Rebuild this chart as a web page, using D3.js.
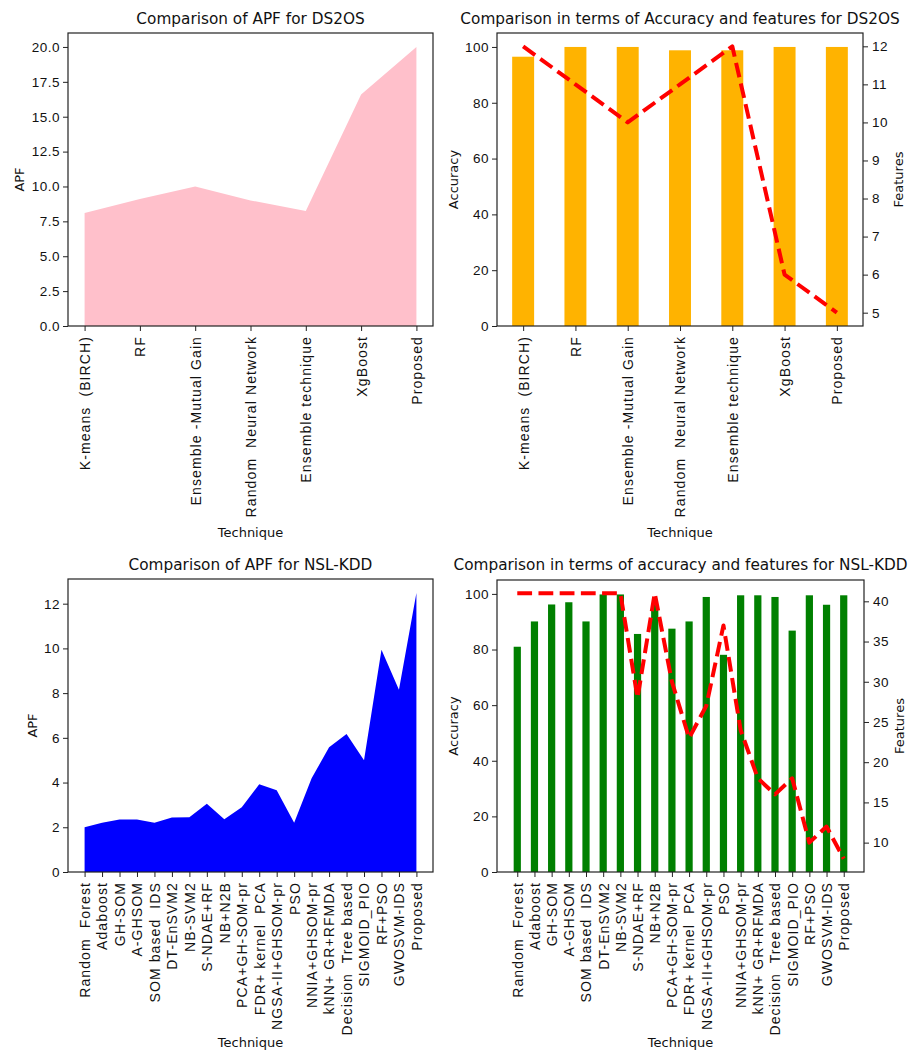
<!DOCTYPE html>
<html>
<head>
<meta charset="utf-8">
<script src="https://cdn.jsdelivr.net/npm/d3@7"></script>
<style>
  html, body { margin: 0; padding: 0; background: #fff; }
  svg { display: block; font-family: "DejaVu Sans", sans-serif; }
</style>
</head>
<body>
<svg id="fig" width="908" height="1054"></svg>
<script>
// ---- DS2OS data ----
const ds2osTechniques = ["K-means  (BIRCH)", "RF", "Ensemble -Mutual Gain", "Random  Neural Network",
  "Ensemble technique", "XgBoost", "Proposed"];
const ds2osAPF = [8.1, 9.1, 10.0, 9.0, 8.25, 16.6, 20.0];
const ds2osAccuracy = [96.5, 100, 100, 98.8, 98.8, 100, 100];
const ds2osFeatures = [12, 11, 10, 11, 12, 6, 5];

// ---- NSL-KDD data ----
const nslTechniques = ["Random  Forest", "Adaboost", "GH-SOM", "A-GHSOM", "SOM based  IDS", "DT-EnSVM2",
  "NB-SVM2", "S-NDAE+RF", "NB+N2B", "PCA+GH-SOM-pr", "FDR+ kernel  PCA", "NGSA-II+GHSOM-pr", "PSO",
  "NNIA+GHSOM-pr", "kNN+ GR+RFMDA", "Decision  Tree based", "SIGMOID_PIO", "RF+PSO", "GWOSVM-IDS", "Proposed"];
const nslAPF = [2.0, 2.2, 2.35, 2.35, 2.2, 2.44, 2.45, 3.05, 2.36, 2.9, 3.92, 3.66, 2.2, 4.19, 5.58,
  6.17, 5.0, 9.94, 8.15, 12.48];
const nslAccuracy = [81, 90.1, 96.2, 97, 90.1, 99.8, 99.8, 85.6, 96, 87.5, 90.1, 98.9, 78.1, 99.5, 99.5,
  98.9, 86.8, 99.5, 96.1, 99.5];
const nslFeatures = [41, 41, 41, 41, 41, 41, 41, 28, 41, 30, 23, 27, 37, 24, 18, 16, 18, 10, 12, 8];

// tick values
const ds2osAPFTicks = [0, 2.5, 5, 7.5, 10, 12.5, 15, 17.5, 20];
const nslAPFTicks = [0, 2, 4, 6, 8, 10, 12];
const accuracyTicks = [0, 20, 40, 60, 80, 100];
const ds2osFeatureTicks = [5, 6, 7, 8, 9, 10, 11, 12];
const nslFeatureTicks = [10, 15, 20, 25, 30, 35, 40];

const svg = d3.select("#fig");
const TICK_FONT = "13.5px";
const XTICK_FONT = "14px";
const LABEL_FONT = "13px";
const TITLE_FONT = "15.3px";

function frame(g, box) {
  g.append("rect")
    .attr("x", box.left).attr("y", box.top)
    .attr("width", box.right - box.left).attr("height", box.bottom - box.top)
    .attr("fill", "none").attr("stroke", "#222").attr("stroke-width", 1.2);
}

function styleAxis(sel, size, spacing) {
  sel.select(".domain").remove();
  sel.selectAll(".tick line").attr("stroke", "#222").attr("stroke-width", 1);
  sel.selectAll(".tick text").attr("fill", "#111").style("font-size", size)
    .style("letter-spacing", spacing);
}

function xCategoryAxis(g, box, x, labels) {
  const ax = g.append("g").attr("transform", `translate(0,${box.bottom})`)
    .call(d3.axisBottom(x).tickValues(d3.range(labels.length))
      .tickFormat(i => labels[i]).tickSize(5).tickSizeOuter(0));
  styleAxis(ax, XTICK_FONT, "1.1px");
  ax.selectAll(".tick text")
    .style("white-space", "pre")
    .attr("transform", "rotate(-90)")
    .attr("x", -10).attr("y", 0).attr("dy", "0.35em")
    .style("text-anchor", "end");
}

function leftAxis(g, box, y, ticks, fmt) {
  const ax = g.append("g").attr("transform", `translate(${box.left},0)`)
    .call(d3.axisLeft(y).tickValues(ticks).tickFormat(fmt).tickSize(5).tickPadding(3));
  styleAxis(ax, TICK_FONT, "0.5px");
}

function rightAxis(g, box, y, ticks) {
  const ax = g.append("g").attr("transform", `translate(${box.right},0)`)
    .call(d3.axisRight(y).tickValues(ticks).tickFormat(d3.format("d")).tickSize(5).tickPadding(4));
  styleAxis(ax, TICK_FONT, "0.5px");
}

function title(g, box, text, y) {
  g.append("text").attr("x", (box.left + box.right) / 2).attr("y", y)
    .attr("text-anchor", "middle").style("font-size", TITLE_FONT).attr("fill", "#111").text(text);
}

function xLabel(g, box, y) {
  g.append("text").attr("x", (box.left + box.right) / 2).attr("y", y)
    .attr("text-anchor", "middle").style("font-size", LABEL_FONT).attr("fill", "#111").text("Technique");
}

function yLabel(g, x, y, text) {
  g.append("text").attr("transform", `translate(${x},${y}) rotate(-90)`)
    .attr("text-anchor", "middle").attr("dy", "0.35em")
    .style("font-size", LABEL_FONT).attr("fill", "#111").text(text);
}

// Area chart of APF values
function apfArea(box, labels, values, ticks, fmt, color, titleText, titleY, xLabelY, yLabelX) {
  const g = svg.append("g");
  const n = labels.length;
  const pad = 0.05 * (n - 1);
  const x = d3.scaleLinear().domain([-pad, n - 1 + pad]).range([box.left, box.right]);
  const y = d3.scaleLinear().domain([0, d3.max(values) * 1.05]).range([box.bottom, box.top]);
  const area = d3.area().x((d, i) => x(i)).y0(y(0)).y1(d => y(d));
  g.append("path").datum(values).attr("d", area).attr("fill", color).attr("stroke", "none");
  frame(g, box);
  leftAxis(g, box, y, ticks, fmt);
  xCategoryAxis(g, box, x, labels);
  title(g, box, titleText, titleY);
  xLabel(g, box, xLabelY);
  yLabel(g, yLabelX, (box.top + box.bottom) / 2, "APF");
}

// Bar chart of accuracy with dashed line of features on a twin axis
function accuracyFeatures(box, labels, acc, feats, fTicks, barColor, xPad, titleText, titleY, xLabelY) {
  const g = svg.append("g");
  const n = labels.length;
  const barW = 0.42;
  const x = d3.scaleLinear().domain([-xPad, n - 1 + xPad]).range([box.left, box.right]);
  const y = d3.scaleLinear().domain([0, 105]).range([box.bottom, box.top]);
  const fMin = d3.min(feats), fMax = d3.max(feats), fPad = 0.05 * (fMax - fMin);
  const y2 = d3.scaleLinear().domain([fMin - fPad, fMax + fPad]).range([box.bottom, box.top]);

  g.selectAll("rect.bar").data(acc).enter().append("rect")
    .attr("class", "bar")
    .attr("x", (d, i) => x(i - barW / 2))
    .attr("width", x(barW) - x(0))
    .attr("y", d => y(d))
    .attr("height", d => y(0) - y(d))
    .attr("fill", barColor);

  const line = d3.line().x((d, i) => x(i)).y(d => y2(d));
  g.append("path").datum(feats).attr("d", line)
    .attr("fill", "none").attr("stroke", "#ff0000").attr("stroke-width", 4)
    .attr("stroke-dasharray", "14.8,6.4").attr("stroke-linejoin", "round");

  frame(g, box);
  leftAxis(g, box, y, accuracyTicks, d3.format("d"));
  rightAxis(g, box, y2, fTicks);
  xCategoryAxis(g, box, x, labels);
  title(g, box, titleText, titleY);
  xLabel(g, box, xLabelY);
  yLabel(g, box.left - 44, (box.top + box.bottom) / 2, "Accuracy");
  yLabel(g, box.right + 35, (box.top + box.bottom) / 2, "Features");
}

const boxTL = { left: 68, right: 433, top: 33, bottom: 326 };
const boxTR = { left: 497, right: 863, top: 33, bottom: 326 };
const boxBL = { left: 68, right: 433, top: 579, bottom: 872 };
const boxBR = { left: 497, right: 864, top: 580, bottom: 872 };

apfArea(boxTL, ds2osTechniques, ds2osAPF, ds2osAPFTicks, d3.format(".1f"), "#ffc0cb",
  "Comparison of APF for DS2OS", 24, 537, 19);
accuracyFeatures(boxTR, ds2osTechniques, ds2osAccuracy, ds2osFeatures, ds2osFeatureTicks, "#ffb300", 0.5,
  "Comparison in terms of Accuracy and features for DS2OS", 24, 537);
apfArea(boxBL, nslTechniques, nslAPF, nslAPFTicks, d3.format("d"), "#0000ff",
  "Comparison of APF for NSL-KDD", 570, 1047, 32);
accuracyFeatures(boxBR, nslTechniques, nslAccuracy, nslFeatures, nslFeatureTicks, "#008000", 1.18,
  "Comparison in terms of accuracy and features for NSL-KDD", 570, 1047);
</script>
</body>
</html>
